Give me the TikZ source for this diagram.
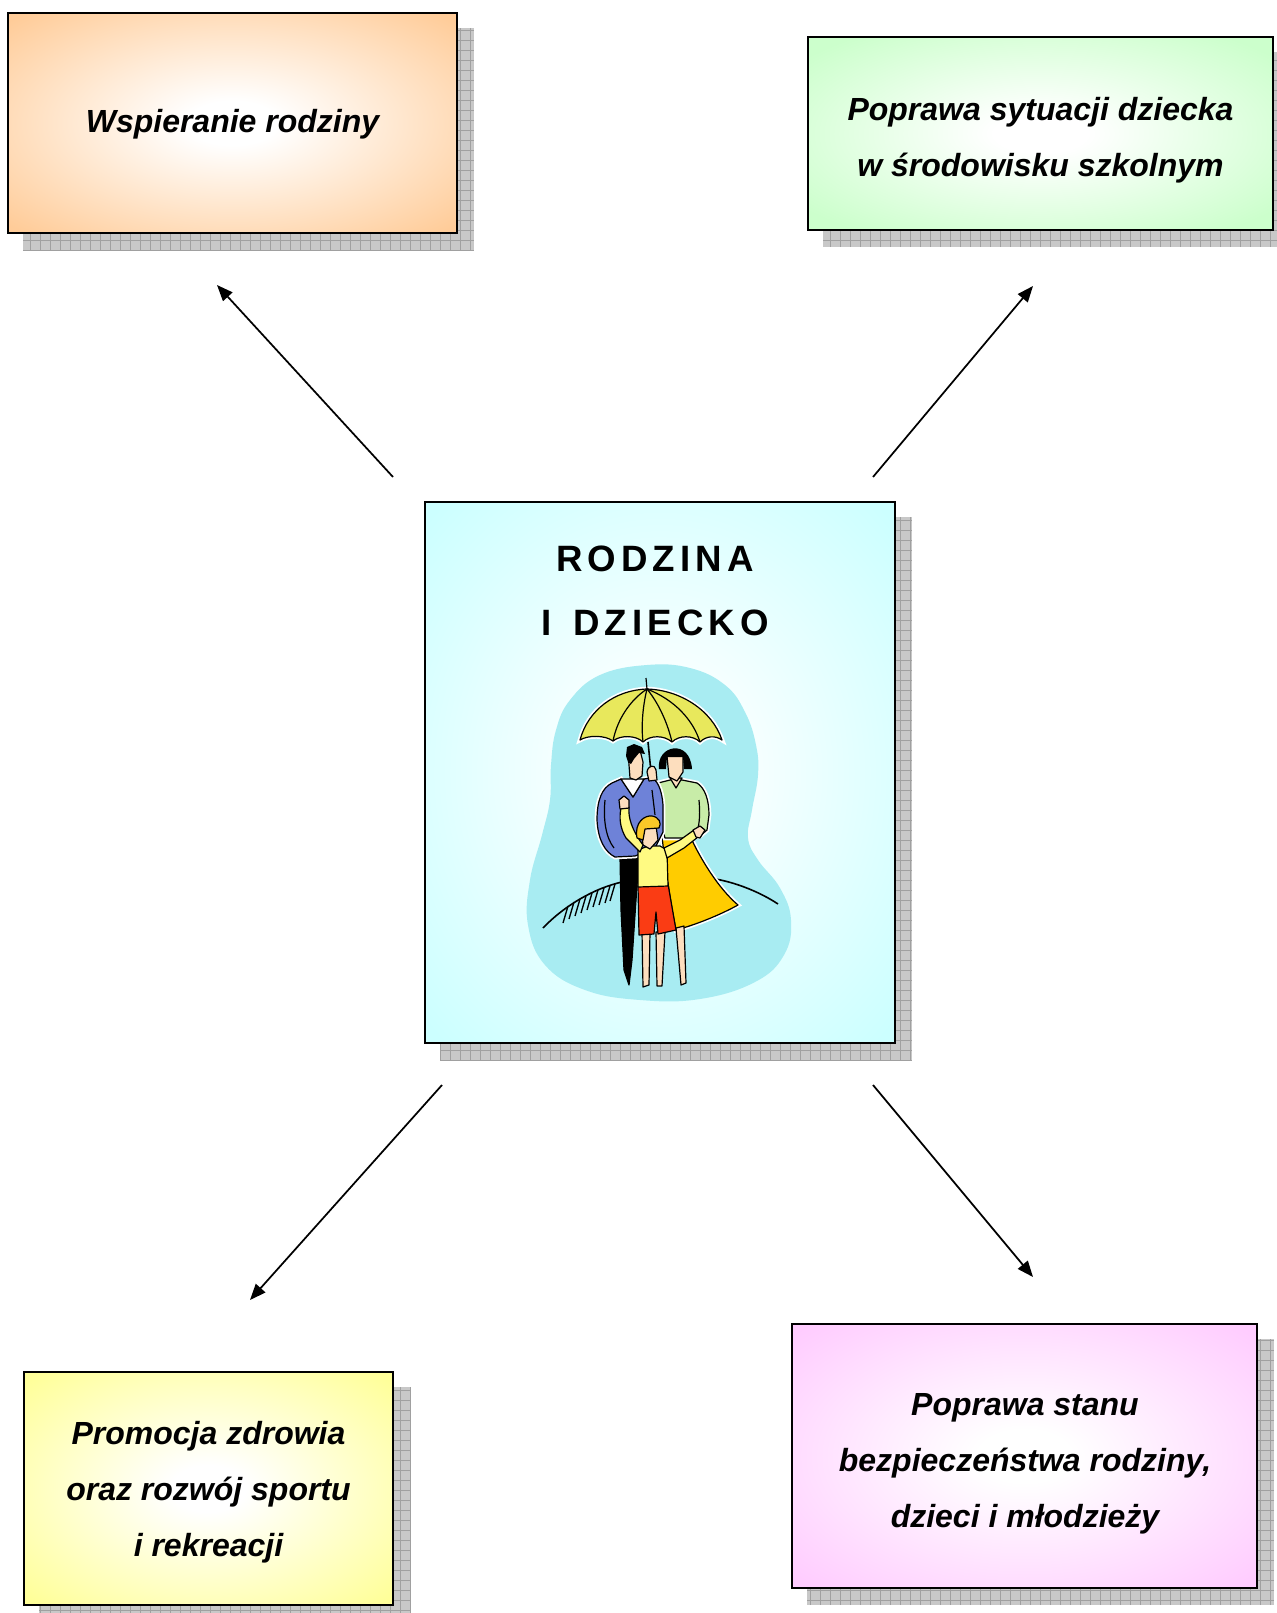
\documentclass[tikz,border=0pt]{standalone}
\usepackage{fontspec}
\setmainfont{Liberation Sans}
\newfontfamily\titlefont[LetterSpace=14]{Liberation Sans}
\usetikzlibrary{arrows.meta,calc,backgrounds}
\definecolor{peach}{RGB}{255,204,153}
\definecolor{mint}{RGB}{204,255,204}
\definecolor{paleyel}{RGB}{255,255,153}
\definecolor{pink}{RGB}{255,204,255}
\definecolor{cyanbox}{RGB}{204,255,255}
\definecolor{shadowbase}{RGB}{200,200,200}
\definecolor{shadowline}{RGB}{160,160,160}
\definecolor{blobc}{RGB}{168,236,242}
\definecolor{umb}{RGB}{232,232,92}
\definecolor{skin}{RGB}{253,222,190}
\definecolor{sweater}{RGB}{110,130,216}
\definecolor{topgreen}{RGB}{200,236,168}
\definecolor{gold}{RGB}{255,204,0}
\definecolor{shorts}{RGB}{250,60,20}
\definecolor{shirt}{RGB}{255,250,130}
\definecolor{kidhair}{RGB}{250,200,40}
\pgfdeclareradialshading{shorange}{\pgfpoint{0bp}{0bp}}{color(0bp)=(white); color(5bp)=(white); color(34bp)=(peach); color(50bp)=(peach)}
\pgfdeclareradialshading{shgreen}{\pgfpoint{0bp}{0bp}}{color(0bp)=(white); color(5bp)=(white); color(32bp)=(mint); color(50bp)=(mint)}
\pgfdeclareradialshading{shyellow}{\pgfpoint{0bp}{0bp}}{color(0bp)=(white); color(5bp)=(white); color(34bp)=(paleyel); color(50bp)=(paleyel)}
\pgfdeclareradialshading{shpink}{\pgfpoint{0bp}{0bp}}{color(0bp)=(white); color(5bp)=(white); color(34bp)=(pink); color(50bp)=(pink)}
\pgfdeclareradialshading{shcyan}{\pgfpoint{0bp}{0bp}}{color(0bp)=(white); color(5bp)=(white); color(34bp)=(cyanbox); color(50bp)=(cyanbox)}
\tikzset{
  box/.style={draw=black, line width=1.5pt, inner sep=0pt},
  lbl/.style={align=center, inner sep=0pt, font=\fontsize{24}{42}\selectfont\bfseries\itshape},
  ttl/.style={align=center, inner sep=0pt, font=\titlefont\fontsize{27.5}{48}\selectfont\bfseries},
  conn/.style={line width=1.3pt, -{Triangle[length=12pt,width=9.5pt]}},
  figline/.style={draw=black, line width=0.9pt, line join=round},
  shadowfill/.style={fill=shadowbase},
  shadowgrid/.style={draw=shadowline, line width=0.6pt}
}
\begin{document}
\begin{tikzpicture}[x=0.75pt,y=-0.75pt]
\useasboundingbox (0,0) rectangle (1277,1613);
% boxes
\node[box, shading=shorange, minimum width=336.75pt, minimum height=165pt] (w1) at (232.5,123) {};
\node[box, shading=shgreen, minimum width=348.75pt, minimum height=144.75pt] (w2) at (1040.5,133.5) {};
\node[box, shading=shcyan, minimum width=352.5pt, minimum height=405.75pt] (c) at (660,772.5) {};
\node[box, shading=shyellow, minimum width=276.75pt, minimum height=174.75pt] (w3) at (208.5,1488.5) {};
\node[box, shading=shpink, minimum width=348.75pt, minimum height=198pt] (w4) at (1024.5,1456) {};
% shadows
\begin{scope}[on background layer]
\foreach \n in {w1,w2,c,w3,w4}{
  \fill[shadowfill] ($(\n.south west)+(16,16)$) rectangle ($(\n.north east)+(16,16)$);
  \draw[shadowgrid, step=7.5pt] ($(\n.south west)+(16,16)$) grid ($(\n.north east)+(16,16)$);
}
\end{scope}
% texts
\node[lbl] (t1) at (232.5,124.7) {Wspieranie rodziny};
\node[lbl] (t2) at (1040.5,140.2) {Poprawa sytuacji dziecka\\w środowisku szkolnym};
\node[lbl] (t3) at (208.5,1492.5) {Promocja zdrowia\\oraz rozwój sportu\\i rekreacji};
\node[lbl] (t4) at (1025,1463.4) {Poprawa stanu\\bezpieczeństwa rodziny,\\dzieci i młodzieży};
\node[ttl] (t0) at (655,591) {RODZINA\\I\hspace{5pt} DZIECKO};
% arrows
\coordinate (a1s) at (393,477); \coordinate (a1e) at (217,285);
\coordinate (a2s) at (873,477); \coordinate (a2e) at (1033,286);
\coordinate (a3s) at (442,1085); \coordinate (a3e) at (250,1300);
\coordinate (a4s) at (873,1085); \coordinate (a4e) at (1033,1277);
\draw[conn] (a1s) -- (a1e);
\draw[conn] (a2s) -- (a2e);
\draw[conn] (a3s) -- (a3e);
\draw[conn] (a4s) -- (a4e);
% clipart: blob
\fill[blobc] plot[smooth cycle, tension=0.7] coordinates {(647,665) (690,668) (725,685) (745,712) (756,745) (758,775) (752,810) (748,838) (758,860) (780,888) (791,920) (784,955) (755,982) (700,999) (640,1000) (585,990) (545,965) (528,925) (530,880) (542,835) (550,800) (551,765) (556,730) (570,700) (600,675)};
% ground
\draw[line width=1.2pt] (543,928) .. controls (565,905) and (595,888) .. (622,882);
\draw[line width=1.2pt] (700,877) .. controls (730,879) and (760,892) .. (778,904);
\foreach \x/\y in {568/906,574/902,580/899,586/896,592/893,598/890,604/888,610/886,615/884}
  \draw[line width=1pt] (\x-5,\y+17) -- (\x,\y);
% umbrella
\filldraw[figline, fill=umb, preaction={draw=white, line width=3.5pt}] (580,740) .. controls (588,710) and (615,690) .. (647,689) .. controls (680,690) and (712,710) .. (722,740) .. controls (715,735) and (706,736) .. (700,742) .. controls (693,735) and (679,735) .. (672,742) .. controls (664,735) and (650,735) .. (643,742) .. controls (636,735) and (620,735) .. (613,741) .. controls (605,735) and (588,735) .. (580,740) -- cycle;
\draw[figline] (647,689) .. controls (630,700) and (617,720) .. (613,741);
\draw[figline] (647,689) .. controls (643,705) and (641,725) .. (643,742);
\draw[figline] (647,689) .. controls (660,705) and (668,725) .. (672,742);
\draw[figline] (647,689) .. controls (675,700) and (693,720) .. (700,742);
\draw[figline] (647,689) -- (646,678);
\draw[line width=1.2pt] (648,742) -- (651,772);
% woman
\filldraw[figline, fill=gold, preaction={draw=white, line width=3.5pt}] (662,836) -- (690,836) .. controls (700,858) and (718,888) .. (738,905) .. controls (720,915) and (695,925) .. (676,930) .. controls (670,900) and (665,865) .. (662,836) -- cycle;
\filldraw[figline, fill=skin] (676,928) -- (684,926) -- (686,983) -- (681,985) -- cycle;
\filldraw[figline, fill=topgreen, preaction={draw=white, line width=3.5pt}] (658,783) -- (670,780) -- (682,780) -- (697,783) .. controls (705,788) and (709,800) .. (709,815) -- (707,830) -- (700,836) -- (690,838) -- (665,838) -- (660,820) -- cycle;
\draw[figline] (699,800) .. controls (700,812) and (700,822) .. (697,832);
\filldraw[figline, fill=skin] (670,778) -- (682,778) -- (676,788) -- cycle;
\filldraw[figline, fill=skin] (667,756) -- (683,756) -- (683,772) -- (677,781) -- (669,777) -- cycle;
\fill[black] (659,769) .. controls (656,745) and (690,738) .. (692,769) -- (684,769) -- (683,757) -- (667,757) -- (666,769) -- cycle;
% man
\filldraw[figline, fill=black] (620,857) -- (639,857) -- (636,900) -- (632,960) -- (629,985) -- (624,970) -- (621,910) -- cycle;
\filldraw[figline, fill=sweater, preaction={draw=white, line width=3.5pt}] (621,779) -- (633,797) -- (644,779) -- (650,778) .. controls (657,778) and (662,790) .. (663,805) -- (663,832) -- (655,848) -- (635,856) -- (615,857) .. controls (605,852) and (598,840) .. (597,820) .. controls (597,800) and (602,788) .. (612,783) -- cycle;
\draw[figline] (605,800) .. controls (603,820) and (606,838) .. (614,848);
\draw[figline] (652,790) -- (655,815);
\filldraw[figline, fill=white] (621,779) -- (644,779) -- (633,797) -- cycle;
\filldraw[figline, fill=skin] (628,752) -- (640,750) -- (643,762) -- (642,776) -- (636,780) -- (630,778) -- cycle;
\fill[black] (626,756) -- (627,747) -- (634,744) -- (642,747) -- (645,754) -- (639,753) -- (634,759) -- (631,764) -- (628,762) -- cycle;
\filldraw[figline, fill=skin] (647,772) .. controls (648,765) and (655,764) .. (656,770) -- (657,780) -- (649,781) -- cycle;
% child
\filldraw[figline, fill=skin] (642,932) -- (650,932) -- (649,985) -- (643,987) -- cycle;
\filldraw[figline, fill=skin] (656,932) -- (665,932) -- (662,986) -- (657,986) -- cycle;
\filldraw[figline, fill=shorts] (638,886) -- (668,884) -- (676,930) -- (658,934) -- (656,912) -- (654,934) -- (639,935) -- cycle;
\filldraw[figline, fill=shirt] (638,850) -- (648,846) -- (660,846) -- (667,850) -- (668,886) -- (638,887) -- cycle;
\filldraw[figline, fill=shirt] (640,852) -- (626,838) .. controls (620,828) and (619,818) .. (621,808) -- (629,807) .. controls (628,818) and (632,830) .. (643,845) -- cycle;
\filldraw[figline, fill=skin] (620,809) -- (619,800) -- (624,796) -- (629,800) -- (629,808) -- cycle;
\filldraw[figline, fill=shirt] (664,848) -- (680,840) -- (694,830) -- (698,837) -- (684,848) -- (667,858) -- cycle;
\filldraw[figline, fill=skin] (693,830) -- (700,826) -- (705,830) -- (700,838) -- (696,837) -- cycle;
\filldraw[figline, fill=skin] (641,828) -- (656,826) -- (658,840) -- (650,849) -- (643,845) -- cycle;
\filldraw[figline, fill=kidhair] (637,838) .. controls (634,822) and (645,815) .. (652,816) .. controls (659,817) and (662,823) .. (659,828) -- (645,829) -- (643,840) -- cycle;
\end{tikzpicture}
\end{document}
